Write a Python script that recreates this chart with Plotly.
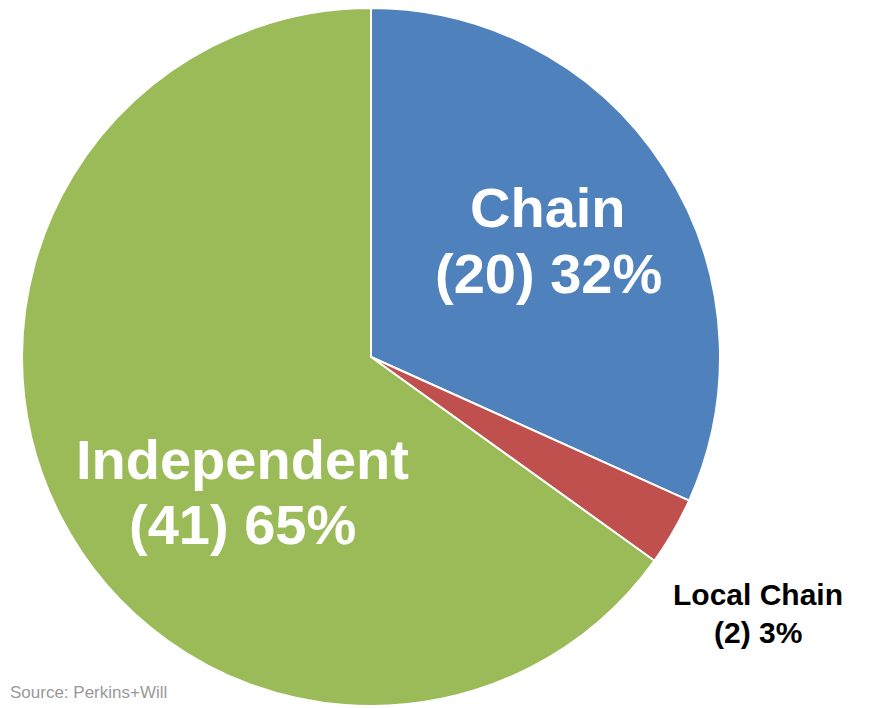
import plotly.graph_objects as go

categories = ["Chain", "Local Chain", "Independent"]
counts = [20, 2, 41]
percent_labels = ["32%", "3%", "65%"]
colors = ["#4F81BD", "#C0504D", "#9BBB59"]
source_text = "Source: Perkins+Will"

W, H = 872, 708
OFF = 8  # page body margin
cx, cy, r = 371, 357, 349

def px(x):
    return (x - OFF) / W

def py(y):
    return 1 - (y - OFF) / H

fig = go.Figure(go.Pie(
    labels=categories,
    values=counts,
    sort=False,
    direction="clockwise",
    rotation=0,
    textinfo="none",
    hoverinfo="label+value+percent",
    marker=dict(colors=colors, line=dict(color="white", width=2)),
    domain=dict(x=[px(cx - r), px(cx + r)], y=[py(cy + r), py(cy - r)]),
))

label_specs = [
    # (index, x, y line1, y line2, size, color)
    (0, 548, 207, 273, 56, "white"),
    (2, 242, 459, 524, 56, "white"),
    (1, 758, 594, 632, 30, "black"),
]
annotations = []
for i, x, y1, y2, size, col in label_specs:
    f = dict(family="Liberation Sans, Arial, sans-serif", size=size, color=col, weight="bold")
    annotations.append(dict(x=px(x), y=py(y1), xref="paper", yref="paper", text=f"<b>{categories[i]}</b>",
                            showarrow=False, font=f, xanchor="center", yanchor="middle"))
    annotations.append(dict(x=px(x), y=py(y2), xref="paper", yref="paper",
                            text=f"<b>({counts[i]}) {percent_labels[i]}</b>",
                            showarrow=False, font=f, xanchor="center", yanchor="middle"))
annotations.append(dict(x=px(8), y=py(692), xref="paper", yref="paper", text=source_text, showarrow=False,
                        font=dict(family="Liberation Sans, Arial, sans-serif", size=17, color="#999999"),
                        xanchor="left", yanchor="middle"))

fig.update_layout(
    width=W, height=H,
    margin=dict(l=0, r=0, t=0, b=0),
    showlegend=False,
    paper_bgcolor="white",
    annotations=annotations,
)
fig.write_html("out.html")
